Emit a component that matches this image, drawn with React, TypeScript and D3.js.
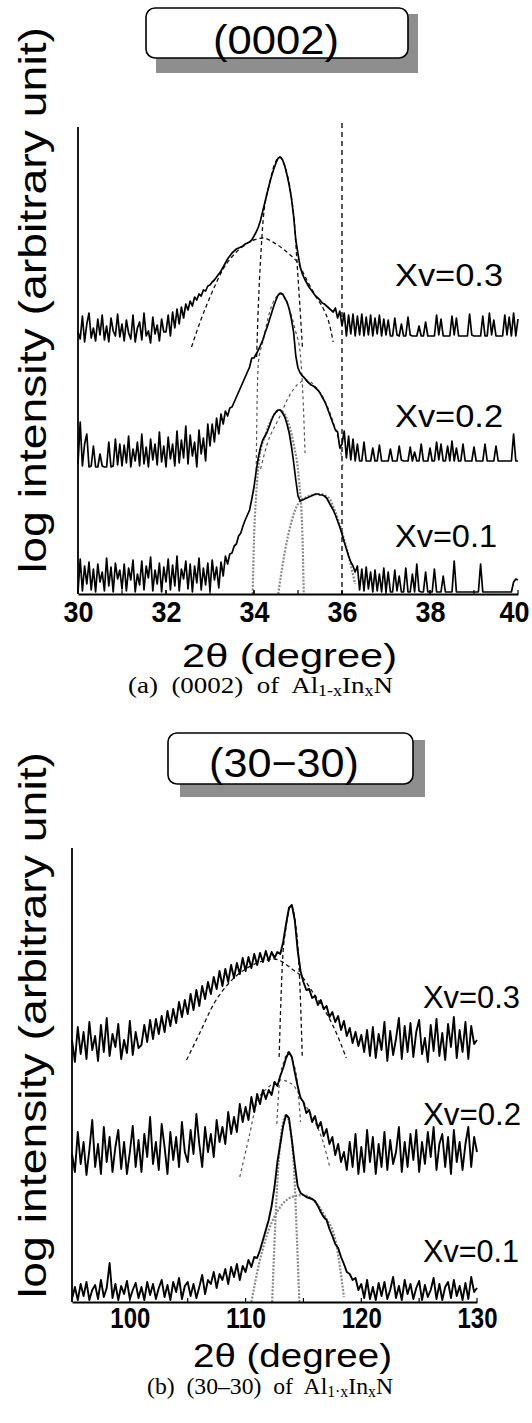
import { useEffect, useRef } from 'react';
import * as d3 from 'd3';

type Pt = [number, number];

// ---------- (0002) scan : 2θ 30..40°, one reading every 0.05° ----------
const thetaA = d3.range(201).map(i => 30 + i * 0.05);

const a03 = [
  262, 255, 278, 252, 270, 281, 256, 266, 253, 275, 259, 279, 254, 268, 252, 276, 263, 258, 280, 257,
  270, 253, 274, 261, 255, 279, 252, 266, 272, 254, 281, 258, 263, 251, 277, 260, 269, 253, 275, 262,
  262, 279, 258, 282, 266, 285, 270, 287, 276, 290, 284, 293, 288, 297, 294, 300, 298, 304, 303, 308,
  309, 312, 314, 317, 320, 323, 327, 331, 335, 338, 341, 343, 345, 346, 347, 348, 350, 351, 352, 354,
  358, 362, 367, 374, 383, 392, 401, 410, 418, 425, 431, 436, 437, 434, 428, 419, 409, 396, 378, 354,
  340, 327, 320, 315, 311, 307, 304, 301, 298, 296, 294, 291, 290, 288, 286, 284, 282, 286, 276, 283,
  268, 281, 258, 279, 260, 280, 258, 278, 259, 280, 258, 277, 259, 279, 258, 276, 260, 279, 258, 275,
  259, 274, 258, 258, 276, 259, 258, 270, 258, 258, 277, 259, 258, 258, 258, 268, 258, 258, 272, 258,
  258, 258, 258, 279, 259, 275, 258, 258, 258, 258, 278, 259, 276, 258, 258, 258, 258, 258, 280, 259,
  258, 258, 258, 258, 278, 258, 258, 281, 259, 274, 258, 258, 258, 258, 279, 259, 277, 258, 281, 258,
  275,
];

const a02 = [
  130, 172, 128, 150, 160, 127, 128, 148, 127, 127, 140, 128, 127, 127, 152, 127, 128, 155, 129, 150,
  128, 149, 131, 158, 127, 145, 133, 152, 128, 160, 130, 147, 127, 155, 134, 150, 129, 162, 132, 148,
  127, 157, 135, 150, 128, 163, 131, 154, 136, 168, 130, 159, 138, 152, 127, 164, 140, 156, 133, 170,
  148, 170, 152, 176, 160, 180, 170, 183, 178, 186, 187, 192, 197, 202, 207, 212, 217, 222, 227, 236,
  236, 240, 244, 249, 254, 261, 267, 274, 281, 288, 294, 299, 301, 300, 296, 292, 285, 275, 262, 238,
  226, 221, 218, 216, 213, 211, 209, 208, 206, 204, 201, 197, 193, 188, 182, 176, 170, 164, 162, 146,
  150, 163, 136, 158, 134, 155, 133, 150, 133, 133, 152, 133, 133, 133, 146, 133, 133, 149, 133, 133,
  133, 133, 145, 133, 133, 133, 148, 134, 133, 133, 133, 147, 133, 142, 133, 133, 150, 133, 133, 133,
  146, 133, 133, 152, 134, 150, 133, 133, 148, 133, 153, 133, 146, 133, 133, 150, 133, 133, 133, 133,
  147, 133, 133, 133, 133, 150, 133, 133, 133, 133, 148, 133, 133, 133, 133, 133, 133, 133, 160, 133,
  133,
];

const a01 = [
  2, 35, 3, 28, 10, 32, 4, 25, 2, 30, 12, 22, 3, 36, 8, 27, 2, 31, 15, 24,
  5, 30, 3, 26, 14, 34, 2, 20, 9, 33, 4, 28, 16, 37, 3, 24, 10, 31, 2, 27,
  12, 35, 4, 29, 8, 38, 3, 25, 15, 33, 5, 30, 2, 28, 11, 36, 4, 26, 9, 31,
  3, 34, 14, 27, 6, 32, 18, 38, 30, 40, 41, 48, 50, 58, 61, 68, 74, 79, 84, 95,
  107, 123, 137, 147, 154, 158, 162, 168, 174, 179, 182, 184, 184, 181, 177, 170, 161, 148, 132, 114,
  98, 93, 94, 95, 96, 97, 98, 99, 100, 100, 99, 99, 98, 96, 92, 88, 84, 79, 73, 67,
  60, 52, 45, 38, 32, 28, 22, 28, 4, 25, 3, 27, 5, 22, 2, 24, 3, 20, 2, 26,
  2, 22, 2, 2, 24, 3, 18, 2, 2, 26, 2, 2, 20, 2, 30, 3, 2, 2, 22, 2,
  2, 2, 25, 2, 2, 2, 18, 2, 2, 2, 2, 33, 2, 2, 2, 2, 2, 2, 2, 2,
  2, 2, 2, 30, 2, 2, 2, 2, 2, 2, 2, 2, 2, 2, 2, 2, 2, 2, 12, 15,
  14,
];

// fitted components, (0002)
const fitA03Broad: Pt[] = [[32.58, 247], [32.8, 275], [33.04, 301], [33.3, 325], [33.6, 342], [33.9, 352], [34.2, 356], [34.5, 350], [34.8, 340], [35.0, 331], [35.2, 314], [35.4, 298], [35.6, 283], [35.7, 272], [35.8, 252]];
const fitA03Narrow: Pt[] = [[34.06, 237], [34.1, 290], [34.15, 335], [34.21, 375], [34.35, 410], [34.47, 430], [34.58, 437], [34.7, 428], [34.82, 405], [34.92, 370], [34.98, 330], [35.04, 290], [35.1, 247]];
const fitA02Narrow: Pt[] = [[34.05, 124], [34.07, 190], [34.1, 232], [34.2, 252], [34.35, 281], [34.6, 300], [34.8, 285], [34.95, 262], [35.05, 241], [35.12, 190], [35.16, 141]];
const fitA02Broad: Pt[] = [[34.15, 125], [34.3, 150], [34.57, 176], [34.8, 198], [35.0, 210], [35.2, 214], [35.4, 207], [35.6, 194], [35.8, 172], [35.95, 148], [36.02, 128]];
const fitA01Narrow: Pt[] = [[33.97, 0], [34.0, 55], [34.05, 100], [34.12, 135], [34.25, 158], [34.4, 175], [34.58, 184], [34.75, 175], [34.9, 150], [35.02, 115], [35.1, 60], [35.13, 0]];
const fitA01Broad: Pt[] = [[34.55, 0], [34.7, 42], [34.85, 72], [35.0, 90], [35.2, 97], [35.5, 100], [35.7, 96], [35.85, 82], [36.0, 62], [36.15, 38], [36.3, 10]];

// ---------- (30-30) scan : 2θ 95..130°, one reading every 0.25° ----------
const thetaB = d3.range(141).map(i => 95 + i * 0.25);

const b03 = [
  262, 240, 275, 248, 270, 243, 280, 252, 266, 241, 277, 250, 284, 246, 268, 255, 278, 243, 262, 249,
  281, 247, 270, 254, 257, 277, 260, 282, 263, 283, 268, 286, 270, 291, 276, 293, 279, 300, 285, 302,
  288, 308, 292, 312, 296, 316, 303, 320, 308, 325, 313, 331, 316, 333, 320, 337, 324, 339, 328, 344,
  331, 345, 334, 348, 337, 349, 340, 351, 341, 350, 344, 350, 348, 360, 378, 394, 397, 382, 352, 331,
  320, 312, 313, 304, 306, 297, 302, 293, 296, 285, 290, 280, 286, 272, 281, 266, 274, 259, 270, 256,
  267, 250, 272, 246, 275, 244, 268, 252, 280, 241, 271, 247, 263, 284, 243, 276, 250, 279, 245, 270,
  282, 248, 264, 240, 277, 251, 283, 246, 269, 242, 278, 255, 285, 244, 272, 250, 280, 243, 276, 258,
  262,
];

const b02 = [
  148, 130, 170, 138, 160, 127, 152, 182, 135, 158, 128, 175, 140, 165, 130, 155, 172, 133, 160, 128,
  150, 176, 135, 162, 130, 168, 145, 185, 138, 160, 132, 178, 155, 128, 170, 142, 165, 135, 180, 150,
  140, 172, 148, 188, 158, 135, 175, 150, 168, 145, 182, 160, 175, 158, 190, 168, 185, 170, 198, 180,
  195, 182, 205, 190, 208, 198, 212, 203, 212, 207, 220, 216, 226, 234, 244, 250, 245, 230, 216, 204,
  200, 189, 192, 180, 186, 174, 180, 166, 173, 158, 165, 147, 158, 140, 150, 132, 160, 135, 168, 128,
  155, 130, 172, 140, 165, 128, 158, 135, 170, 132, 162, 138, 150, 175, 130, 160, 135, 168, 142, 172,
  130, 160, 138, 170, 145, 175, 132, 158, 168, 135, 165, 128, 172, 140, 160, 132, 158, 175, 135, 165,
  150,
];

const b01 = [
  3, 15, 2, 18, 6, 20, 2, 12, 17, 3, 22, 5, 14, 39, 4, 18, 2, 16, 8, 21,
  3, 12, 19, 4, 15, 2, 20, 7, 18, 3, 14, 22, 5, 17, 2, 20, 10, 24, 3, 16,
  20, 6, 18, 4, 15, 27, 8, 22, 18, 30, 14, 28, 22, 33, 18, 35, 25, 38, 22, 36,
  30, 42, 35, 45, 44, 52, 62, 72, 82, 96, 115, 140, 158, 176, 187, 184, 162, 138, 116, 109,
  107, 105, 104, 103, 101, 96, 90, 85, 82, 73, 66, 58, 54, 45, 38, 30, 28, 22, 24, 12,
  18, 4, 22, 3, 15, 2, 19, 6, 20, 3, 12, 25, 4, 16, 2, 22, 8, 18, 3, 14,
  21, 2, 17, 5, 12, 24, 3, 18, 2, 15, 20, 4, 22, 6, 16, 2, 19, 3, 25, 10,
  14,
];

// fitted components, (30-30)
const fitB03Broad: Pt[] = [[104.9, 242], [106, 268], [107.3, 299], [108.5, 318], [110, 333], [111.5, 341], [112.5, 343], [113.2, 340], [114, 333], [114.9, 325], [115.8, 310], [116.6, 296], [117.4, 280], [118.1, 262], [118.7, 244]];
const fitB03Narrow: Pt[] = [[112.9, 245], [113.05, 300], [113.2, 342], [113.5, 375], [113.9, 397], [114.3, 380], [114.6, 340], [114.75, 300], [114.9, 245]];
const fitB02Narrow: Pt[] = [[112.7, 178], [112.95, 222], [113.3, 240], [113.7, 250], [114.1, 240], [114.45, 222], [114.75, 180]];
const fitB02Broad: Pt[] = [[109.5, 125], [110.3, 165], [111, 200], [112, 215], [113, 222], [114, 218], [115, 200], [116, 180], [116.7, 160], [117.3, 134]];
const fitB01Narrow: Pt[] = [[112.3, 0], [112.5, 60], [112.8, 130], [113.1, 170], [113.5, 187], [113.9, 170], [114.2, 130], [114.45, 60], [114.65, 0]];
const fitB01Broad: Pt[] = [[110.5, 0], [111.2, 40], [112, 72], [113, 95], [114, 105], [115, 107], [116, 100], [116.9, 85], [117.8, 60], [118.5, 5]];

const seriesNames = ['Xv=0.3', 'Xv=0.2', 'Xv=0.1'];
const ticksA = [30, 32, 34, 36, 38, 40];
const ticksB = [100, 110, 120, 130];

const SANS = '"Liberation Sans", Arial, sans-serif';
const SERIF = '"Liberation Serif", "Times New Roman", serif';

const fitStyle = [
  { stroke: '#111', dash: '4,3', width: 1.3 },
  { stroke: '#555', dash: '3,3', width: 1.2 },
  { stroke: '#8a8a8a', dash: '2,1.5', width: 2.2 },
];

const panels = [
  {
    grid: thetaA, domain: [30, 40], yMax: 467,
    left: 78, right: 518, top: 127, bottom: 594,
    traces: [a03, a02, a01], traceWidth: 1.7,
    fits: [[fitA03Broad, fitA03Narrow], [fitA02Narrow, fitA02Broad], [fitA01Narrow, fitA01Broad]],
    ticks: ticksA, minor: d3.range(31, 40), tickLen: 30, lastShift: -4,
    marker: 36, markerTop: 123,
    box: { x: 146, y: 8, w: 262, h: 50, sx: 10, sy: 6, sh: 9 },
    title: '(0002)', titleX: 276, titleY: 54, titleLen: 126,
    labels: [[395, 286, 108], [395, 427, 108], [395, 547, 102]],
    ylabelY: 300,
    xlabel: [182, 667, 215], tickBase: 622,
    caption: { x: 128, y: 693, len: 265, pre: '(a)  (0002)  of  Al', sub1: '1-x' },
  },
  {
    grid: thetaB, domain: [95, 130], yMax: 454,
    left: 72, right: 477, top: 848, bottom: 1302,
    traces: [b03, b02, b01], traceWidth: 1.9,
    fits: [[fitB03Broad, fitB03Narrow], [fitB02Narrow, fitB02Broad], [fitB01Narrow, fitB01Broad]],
    ticks: ticksB, minor: [95, 105, 115, 125], tickLen: 40, lastShift: 0,
    marker: null, markerTop: 0,
    box: { x: 168, y: 733, w: 245, h: 51, sx: 12, sy: 7, sh: 6 },
    title: '(30\u221230)', titleX: 284, titleY: 777, titleLen: 150,
    labels: [[423, 1008, 97], [423, 1125, 98], [423, 1262, 96]],
    ylabelY: 1025,
    xlabel: [193, 1367, 199], tickBase: 1328,
    caption: { x: 147, y: 1394, len: 246, pre: '(b)  (30\u201330)  of  Al', sub1: '1\u00b7x' },
  },
];

export default function App() {
  const svgRef = useRef<SVGSVGElement>(null);

  useEffect(() => {
    if (!svgRef.current) return;
    const svg = d3.select(svgRef.current);
    svg.selectAll('*').remove();

    svg.append('rect').attr('width', 532).attr('height', 1423).attr('fill', '#fff');

    panels.forEach(p => {
      const x = d3.scaleLinear().domain(p.domain).range([p.left, p.right]);
      const y = d3.scaleLinear().domain([0, p.yMax]).range([p.bottom, p.top]);
      const g = svg.append('g');

      // title box with grey drop shadow
      const b = p.box;
      g.append('rect')
        .attr('x', b.x + b.sx).attr('y', b.y + b.sy)
        .attr('width', b.w).attr('height', b.h + b.sh)
        .attr('fill', '#8e8e8e');
      g.append('rect')
        .attr('x', b.x).attr('y', b.y)
        .attr('width', b.w).attr('height', b.h)
        .attr('rx', 9)
        .attr('fill', '#fff')
        .attr('stroke', '#000')
        .attr('stroke-width', 1.6);
      g.append('text')
        .attr('x', p.titleX).attr('y', p.titleY)
        .attr('text-anchor', 'middle')
        .attr('font-family', SANS).attr('font-size', 40)
        .attr('textLength', p.titleLen).attr('lengthAdjust', 'spacingAndGlyphs')
        .text(p.title);

      // vertical reference line
      if (p.marker !== null) {
        g.append('line')
          .attr('x1', x(p.marker)).attr('x2', x(p.marker))
          .attr('y1', p.markerTop).attr('y2', p.bottom)
          .attr('stroke', '#000').attr('stroke-width', 1.3)
          .attr('stroke-dasharray', '5,4');
      }

      // fitted components
      const fitLine = d3.line<Pt>().x(d => x(d[0])).y(d => y(d[1])).curve(d3.curveMonotoneX);
      p.fits.forEach((set, si) => {
        const st = fitStyle[si];
        set.forEach(pts => {
          g.append('path')
            .attr('d', fitLine(pts) || '')
            .attr('fill', 'none')
            .attr('stroke', st.stroke)
            .attr('stroke-width', st.width)
            .attr('stroke-dasharray', st.dash);
        });
      });

      // measured scans
      const trace = d3.line<number>().x((_, i) => x(p.grid[i])).y(d => y(d));
      p.traces.forEach(vals => {
        g.append('path')
          .attr('d', trace(vals) || '')
          .attr('fill', 'none')
          .attr('stroke', '#000')
          .attr('stroke-width', p.traceWidth)
          .attr('stroke-linejoin', 'round');
      });

      // axes
      g.append('line')
        .attr('x1', p.left).attr('x2', p.left)
        .attr('y1', p.top).attr('y2', p.bottom)
        .attr('stroke', '#000').attr('stroke-width', 1.8);

      const ax = g.append('g')
        .attr('transform', `translate(0,${p.bottom})`)
        .call(d3.axisBottom(x).tickValues(p.ticks).tickSize(0).tickSizeOuter(0).tickFormat(d3.format('d')));
      ax.select('.domain').attr('stroke', '#000').attr('stroke-width', 1.8);
      ax.selectAll<SVGTextElement, number>('text')
        .attr('y', p.tickBase - p.bottom)
        .attr('x', (d, i) => (i === p.ticks.length - 1 ? p.lastShift : 0))
        .attr('dy', null)
        .attr('fill', '#000')
        .attr('font-family', SANS)
        .attr('font-size', 29)
        .attr('font-weight', 'bold')
        .attr('textLength', p.tickLen)
        .attr('lengthAdjust', 'spacingAndGlyphs');

      g.selectAll('line.minor')
        .data(p.minor.concat(p.ticks))
        .join('line')
        .attr('class', 'minor')
        .attr('x1', d => x(d)).attr('x2', d => x(d))
        .attr('y1', p.bottom).attr('y2', p.bottom - 4)
        .attr('stroke', '#000').attr('stroke-width', 1.2);

      // series labels
      p.labels.forEach(([lx, ly, len], i) => {
        g.append('text')
          .attr('x', lx).attr('y', ly)
          .attr('font-family', SANS).attr('font-size', 31)
          .attr('textLength', len).attr('lengthAdjust', 'spacingAndGlyphs')
          .text(seriesNames[i]);
      });

      // axis titles
      g.append('text')
        .attr('transform', `translate(46,${p.ylabelY}) rotate(-90)`)
        .attr('text-anchor', 'middle')
        .attr('font-family', SANS).attr('font-size', 39)
        .attr('textLength', 546).attr('lengthAdjust', 'spacingAndGlyphs')
        .text('log intensity (arbitrary unit)');

      g.append('text')
        .attr('x', p.xlabel[0]).attr('y', p.xlabel[1])
        .attr('font-family', SANS).attr('font-size', 34)
        .attr('textLength', p.xlabel[2]).attr('lengthAdjust', 'spacingAndGlyphs')
        .text('2\u03b8 (degree)');

      // caption
      const c = p.caption;
      const cap = g.append('text')
        .attr('x', c.x).attr('y', c.y)
        .attr('font-family', SERIF).attr('font-size', 24)
        .attr('textLength', c.len).attr('lengthAdjust', 'spacingAndGlyphs')
        .attr('xml:space', 'preserve');
      cap.append('tspan').text(c.pre);
      cap.append('tspan').attr('font-size', 16).attr('dy', 3).text(c.sub1);
      cap.append('tspan').attr('dy', -3).text('In');
      cap.append('tspan').attr('font-size', 16).attr('dy', 3).text('x');
      cap.append('tspan').attr('dy', -3).text('N');
    });
  }, []);

  return (
    <svg
      ref={svgRef}
      width={532}
      height={1423}
      viewBox="0 0 532 1423"
      style={{ position: 'absolute', left: 0, top: 0, display: 'block' }}
    />
  );
}
